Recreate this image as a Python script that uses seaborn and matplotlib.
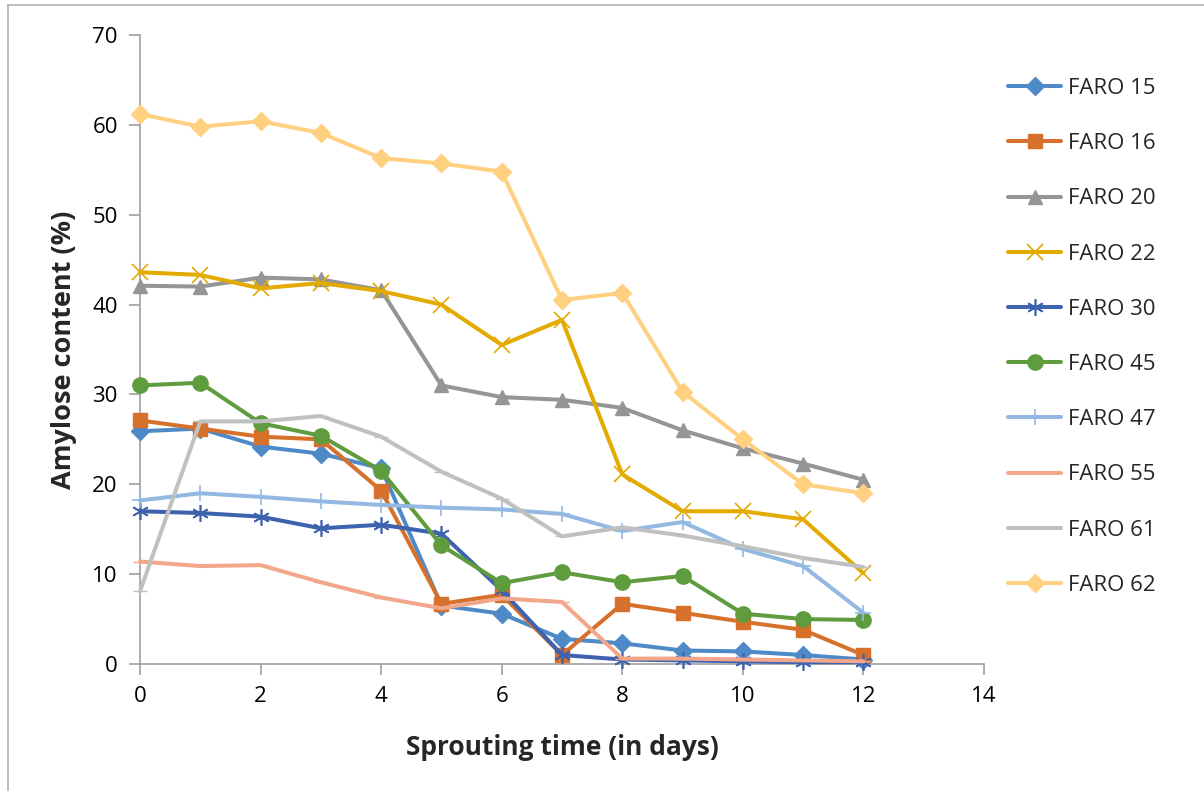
import matplotlib
matplotlib.use("Agg")
import matplotlib.pyplot as plt
from matplotlib.lines import Line2D
import seaborn as sns
import pandas as pd

days = list(range(13))
series_names = ["FARO 15", "FARO 16", "FARO 20", "FARO 22", "FARO 30",
                "FARO 45", "FARO 47", "FARO 55", "FARO 61", "FARO 62"]
faro15 = [25.9, 26.2, 24.2, 23.4, 21.8, 6.5, 5.6, 2.8, 2.3, 1.5, 1.4, 1.0, 0.5]
faro16 = [27.1, 26.2, 25.3, 25.0, 19.3, 6.7, 7.7, 1.0, 6.7, 5.7, 4.7, 3.8, 1.0]
faro20 = [42.1, 42.0, 43.0, 42.8, 41.6, 31.0, 29.7, 29.4, 28.5, 26.0, 24.0, 22.3, 20.5]
faro22 = [43.6, 43.3, 41.8, 42.4, 41.5, 40.0, 35.5, 38.3, 21.1, 17.0, 17.0, 16.1, 10.1]
faro30 = [17.0, 16.8, 16.4, 15.1, 15.5, 14.5, 8.2, 1.0, 0.5, 0.4, 0.3, 0.2, 0.2]
faro45 = [31.0, 31.3, 26.8, 25.4, 21.5, 13.2, 9.0, 10.2, 9.1, 9.8, 5.6, 5.0, 4.9]
faro47 = [18.2, 19.0, 18.6, 18.1, 17.7, 17.4, 17.2, 16.7, 14.8, 15.8, 12.8, 10.9, 5.7]
faro55 = [11.4, 10.9, 11.0, 9.1, 7.4, 6.2, 7.3, 6.9, 0.6, 0.6, 0.5, 0.4, 0.3]
faro61 = [8.1, 27.0, 27.0, 27.6, 25.3, 21.4, 18.4, 14.2, 15.2, 14.3, 13.1, 11.8, 10.8]
faro62 = [61.2, 59.8, 60.4, 59.1, 56.3, 55.7, 54.8, 40.5, 41.3, 30.3, 25.0, 20.0, 19.0]
values = [faro15, faro16, faro20, faro22, faro30, faro45, faro47, faro55, faro61, faro62]

colors = ["#4E8AC8", "#D6702B", "#959595", "#E3AA00", "#3D62AE",
          "#5F9C3E", "#93B9E3", "#F2A68A", "#C0C0C0", "#FFD07F"]
markers = ["D", "s", "^", "x", (6, 2, 0), "o", "+", "_", "_", "D"]
msizes = [9, 10.5, 10.5, 11, 12, 11, 12, 10, 10, 9]

sns.set_style("white")
plt.rcParams['font.family'] = ['Open Sans', 'DejaVu Sans']

fig = plt.figure(figsize=(12.04, 7.91), dpi=100)
ax = fig.add_axes([140/1204, 1-664/791, (984-140)/1204, (664-35)/791])

rows = []
for name, vals in zip(series_names, values):
    for d, v in zip(days, vals):
        rows.append({"day": d, "value": v, "series": name})
df = pd.DataFrame(rows)

handles = []
for name, c, m, ms in zip(series_names, colors, markers, msizes):
    sub = df[df["series"] == name]
    mew = 1.2 if m in ("x", "+", (6, 2, 0)) else 1.0
    sns.lineplot(data=sub, x="day", y="value", ax=ax, color=c, lw=2.9,
                 marker=m, markersize=ms, markeredgecolor=c, markerfacecolor=c,
                 markeredgewidth=mew, legend=False, zorder=3)
    handles.append(Line2D([0], [0], color=c, lw=2.9, marker=m, markersize=ms,
                          markeredgecolor=c, markerfacecolor=c, markeredgewidth=mew))

ax.set_xlim(0, 14)
ax.set_ylim(0, 70)
ax.set_xticks(range(0, 15, 2))
ax.set_yticks(range(0, 71, 10))
ax.tick_params(axis='both', labelsize=16, labelcolor='#000000', length=8, width=1.2,
               direction='out', color='#A0A0A0', pad=6)
ax.tick_params(axis='x', bottom=True, pad=8)
ax.tick_params(axis='y', left=True, pad=8)
for s in ["top", "right"]:
    ax.spines[s].set_visible(False)
for s in ["left", "bottom"]:
    ax.spines[s].set_color('#A0A0A0')
    ax.spines[s].set_linewidth(1.2)
for ln in ax.lines:
    ln.set_clip_on(False)

ax.set_xlabel("Sprouting time (in days)", fontsize=19, fontweight='bold', labelpad=19)
ax.set_ylabel("Amylose content (%)", fontsize=19.5, fontweight='bold', labelpad=11)

leg = fig.legend(handles, series_names, loc='upper left',
                 bbox_to_anchor=(999/1204, 1-69/791), frameon=False,
                 fontsize=16, handlelength=2.4, labelspacing=1.54,
                 handletextpad=0.3, borderaxespad=0)

# outer frame (top and left edges visible)
fig.add_artist(Line2D([8/1204, 1], [1-5/791, 1-5/791], color='#B0B0B0', lw=1.2,
                      transform=fig.transFigure))
fig.add_artist(Line2D([8/1204, 8/1204], [0, 1-5/791], color='#B0B0B0', lw=1.2,
                      transform=fig.transFigure))

fig.savefig("out.png", dpi=100)
